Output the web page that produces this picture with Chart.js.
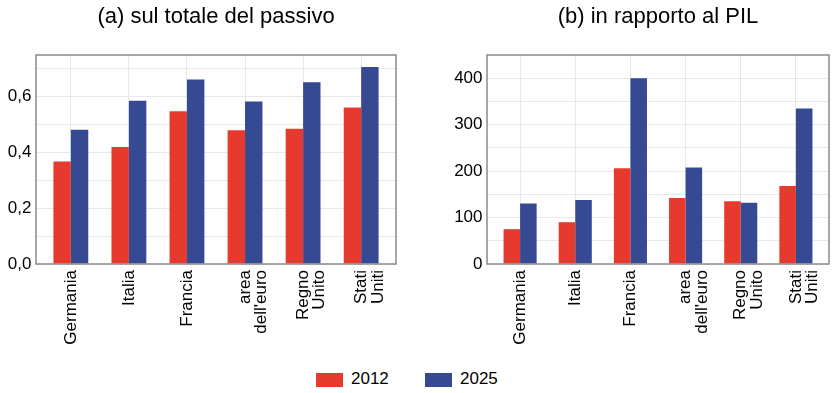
<!DOCTYPE html>
<html>
<head>
<meta charset="utf-8">
<script src="https://cdn.jsdelivr.net/npm/chart.js@4/dist/chart.umd.min.js"></script>
<style>
  html, body { margin: 0; padding: 0; background: #fff; }
  body { width: 840px; height: 393px; position: relative; overflow: hidden; font-family: "Liberation Sans", Arial, sans-serif; }
  #c1 { position: absolute; left: 0; top: 0; }
  #c2 { position: absolute; left: 420px; top: 0; }
  #legend { position: absolute; top: 372px; left: 316px; font-size: 17px; color: #000; }
  .item { position: absolute; top: 0; white-space: nowrap; }
  .sw { position: absolute; top: 1px; width: 27px; height: 14px; }
  .lt { position: absolute; left: 35px; top: -3px; line-height: 20px; }
</style>
</head>
<body>
<canvas id="c1" width="420" height="350"></canvas>
<canvas id="c2" width="420" height="350"></canvas>
<div id="legend"></div>
<script>
// ---- data ----
const categories = [["Germania"], ["Italia"], ["Francia"], ["area", "dell'euro"], ["Regno", "Unito"], ["Stati", "Uniti"]];
const seriesNames = ["2012", "2025"];
const passivo2012 = [0.368, 0.420, 0.548, 0.480, 0.485, 0.562];
const passivo2025 = [0.482, 0.586, 0.662, 0.583, 0.652, 0.707];
const pil2012 = [75, 90, 206, 142, 135, 168];
const pil2025 = [130, 138, 400, 208, 132, 335];
const leftTicks = [0, 0.1, 0.2, 0.3, 0.4, 0.5, 0.6, 0.7];
const leftTickLabels = ["0,0", "", "0,2", "", "0,4", "", "0,6", ""];
const rightTicks = [0, 50, 100, 150, 200, 250, 300, 350, 400];
const rightTickLabels = ["0", "", "100", "", "200", "", "300", "", "400"];
const titles = ["(a) sul totale del passivo", "(b) in rapporto al PIL"];
const colors = ["#e63a2f", "#364a94"];

const FONT = "'Liberation Sans', Arial, Helvetica, sans-serif";

const framePlugin = {
  id: 'frame',
  afterDatasetsDraw(chart) {
    const a = chart.chartArea, ctx = chart.ctx;
    ctx.save();
    ctx.strokeStyle = '#8a8a8a';
    ctx.lineWidth = 1.5;
    ctx.strokeRect(a.left, a.top, a.right - a.left, a.bottom - a.top);
    ctx.restore();
  }
};

function makeChart(id, title, s1, s2, yMax, yTicks, yTickLabels, yWidth, padRight) {
  const toPts = arr => arr.map((v, i) => ({ x: i, y: v }));
  return new Chart(document.getElementById(id), {
    type: 'bar',
    data: {
      datasets: [
        { label: seriesNames[0], data: toPts(s1), backgroundColor: colors[0], borderWidth: 0, categoryPercentage: 0.6, barPercentage: 1 },
        { label: seriesNames[1], data: toPts(s2), backgroundColor: colors[1], borderWidth: 0, categoryPercentage: 0.6, barPercentage: 1 }
      ]
    },
    options: {
      responsive: false,
      animation: false,
      layout: { padding: { left: 0, right: padRight, top: 0, bottom: 0 } },
      plugins: {
        legend: { display: false },
        tooltip: { enabled: false },
        title: {
          display: true, text: title, fullSize: false,
          color: '#000', font: { family: FONT, size: 22, weight: 'normal', lineHeight: 1.2 },
          padding: { top: 4, bottom: 24.6 }
        }
      },
      scales: {
        x: {
          type: 'linear', min: -0.6, max: 5.6, offset: false,
          afterBuildTicks: s => { s.ticks = categories.map((_, i) => ({ value: i })); },
          afterFit: s => { s.height = 86; },
          border: { display: false },
          grid: { color: '#e8e8e8', lineWidth: 1, drawTicks: false, offset: false },
          ticks: {
            autoSkip: false, minRotation: 90, maxRotation: 90, padding: 6,
            color: '#000', font: { family: FONT, size: 17, lineHeight: 0.98 },
            callback: v => categories[Math.round(v)]
          }
        },
        y: {
          min: 0, max: yMax,
          afterBuildTicks: s => { s.ticks = yTicks.map(v => ({ value: v })); },
          afterFit: s => { s.width = yWidth; },
          border: { display: false },
          grid: { color: '#e8e8e8', lineWidth: 1, drawTicks: false },
          ticks: {
            padding: 4.5, color: '#000', font: { family: FONT, size: 17 },
            callback: (v, i) => yTickLabels[i]
          }
        }
      }
    },
    plugins: [framePlugin]
  });
}

makeChart('c1', titles[0], passivo2012, passivo2025, 0.75, leftTicks, leftTickLabels, 36, 24);
makeChart('c2', titles[1], pil2012, pil2025, 450, rightTicks, rightTickLabels, 67, 11);

// legend
const lg = document.getElementById('legend');
const legendX = [0, 109];
seriesNames.forEach((n, i) => {
  const it = document.createElement('div');
  it.className = 'item';
  it.style.left = legendX[i] + 'px';
  it.innerHTML = '<span class="sw" style="background:' + colors[i] + '"></span><span class="lt">' + n + '</span>';
  lg.appendChild(it);
});
</script>
</body>
</html>
